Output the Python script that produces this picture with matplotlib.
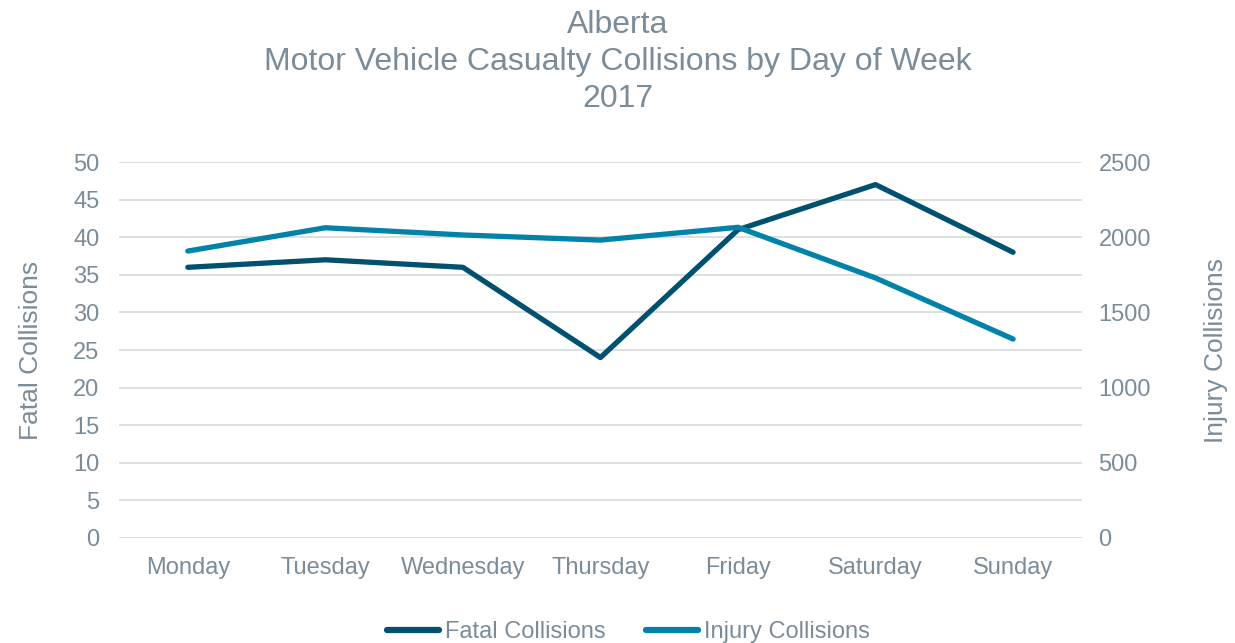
import matplotlib.pyplot as plt
from matplotlib.lines import Line2D

plt.rcParams['font.family'] = ['Liberation Sans', 'DejaVu Sans']

days = ['Monday', 'Tuesday', 'Wednesday', 'Thursday', 'Friday', 'Saturday', 'Sunday']
fatal = [36, 37, 36, 24, 41, 47, 38]
injury = [1908, 2063, 2015, 1981, 2066, 1729, 1323]

text_col = '#7a8c99'
fatal_col = '#00506f'
injury_col = '#0082a9'
grid_col = '#d9dde1'

fig = plt.figure(figsize=(12.35, 6.43), dpi=100)
ax = fig.add_axes([0.0964, 0.1633, 0.7796, 0.5847])
ax2 = ax.twinx()

x = range(len(days))
ax.plot(x, fatal, color=fatal_col, lw=3.8, solid_capstyle='round', zorder=3)
ax2.plot(x, injury, color=injury_col, lw=3.8, solid_capstyle='round', zorder=3)

ax.set_xlim(-0.5, 6.5)
ax.set_ylim(0, 50)
ax.set_yticks(range(0, 51, 5))
ax2.set_ylim(0, 2500)
ax2.set_yticks(range(0, 2501, 500))
ax.set_xticks(list(x))
ax.set_xticklabels(days)

ax.grid(axis='y', color=grid_col, lw=1.3)
ax.set_axisbelow(True)
for a in (ax, ax2):
    for s in a.spines.values():
        s.set_visible(False)
    a.tick_params(length=0, labelsize=17, labelcolor=text_col)
ax.tick_params(axis='x', pad=14)
ax.tick_params(axis='y', pad=14)
ax2.tick_params(axis='y', pad=12)

ax.set_ylabel('Fatal Collisions', fontsize=19, color=text_col, labelpad=22)
ax2.set_ylabel('Injury Collisions', fontsize=19, color=text_col, labelpad=38)

fig.text(0.5, 0.985, 'Alberta\nMotor Vehicle Casualty Collisions by Day of Week\n2017',
         ha='center', va='top', fontsize=23, color=text_col, linespacing=1.32)

handles = [Line2D([], [], color=fatal_col, lw=4.5, solid_capstyle='round'),
           Line2D([], [], color=injury_col, lw=4.5, solid_capstyle='round')]
fig.legend(handles, ['Fatal Collisions', 'Injury Collisions'], loc='center',
           bbox_to_anchor=(0.509, 0.017), ncol=2, frameon=False, fontsize=17,
           labelcolor=text_col, handlelength=2.2, handletextpad=0.25, columnspacing=1.7)

fig.savefig('out.png', dpi=100)
